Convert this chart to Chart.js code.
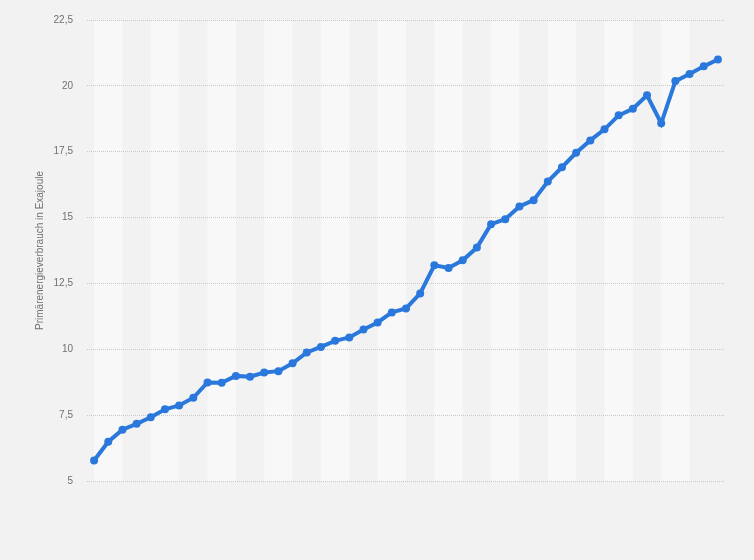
<!DOCTYPE html>
<html lang="de">
<head>
<meta charset="utf-8">
<title>Primärenergieverbrauch</title>
<script src="https://cdn.jsdelivr.net/npm/chart.js@4/dist/chart.umd.min.js"></script>
<style>
  html, body { margin: 0; padding: 0; background: #f2f2f2; }
  #wrap { width: 754px; height: 560px; position: relative; }
</style>
</head>
<body>
<div id="wrap"><canvas id="energyChart"></canvas></div>
<script>
const years = [
    '1980', '1981', '1982', '1983', '1984', '1985', '1986', '1987', '1988', '1989',
    '1990', '1991', '1992', '1993', '1994', '1995', '1996', '1997', '1998', '1999',
    '2000', '2001', '2002', '2003', '2004', '2005', '2006', '2007', '2008', '2009',
    '2010', '2011', '2012', '2013', '2014', '2015', '2016', '2017', '2018', '2019',
    '2020', '2021', '2022', '2023', '2024'
];

const consumption = [
    5.78, 6.49, 6.95, 7.17, 7.42, 7.72, 7.87, 8.16, 8.74, 8.73,
    8.99, 8.96, 9.12, 9.17, 9.47, 9.88, 10.09, 10.32, 10.45, 10.75,
    11.02, 11.40, 11.55, 12.12, 13.19, 13.09, 13.38, 13.86, 14.75, 14.94,
    15.42, 15.66, 16.37, 16.91, 17.46, 17.93, 18.35, 18.88, 19.13, 19.64,
    18.58, 20.18, 20.45, 20.74, 21.00
];

const yTicks = [5, 7.5, 10, 12.5, 15, 17.5, 20, 22.5];

document.addEventListener('DOMContentLoaded', function () {
    const canvas = document.getElementById('energyChart');
    const ctx = canvas.getContext('2d');

    // page background + alternating column bands (every two years)
    const bandsPlugin = {
        id: 'bands',
        beforeDraw(chart) {
            const c = chart.ctx;
            const area = chart.chartArea;
            const x = chart.scales.x;
            c.save();
            c.fillStyle = '#f2f2f2';
            c.fillRect(0, 0, chart.width, chart.height);
            c.fillStyle = '#f8f8f8';
            for (let i = 0; i + 2 < years.length; i += 4) {
                const x0 = x.getPixelForValue(i);
                const x1 = x.getPixelForValue(i + 2);
                c.fillRect(x0, area.top, x1 - x0, area.bottom - area.top);
            }
            c.restore();
        }
    };

    new Chart(ctx, {
        type: 'line',
        data: {
            labels: years,
            datasets: [{
                label: 'Primärenergieverbrauch',
                data: consumption,
                borderColor: '#2a78dc',
                backgroundColor: '#2a78dc',
                borderWidth: 4,
                pointRadius: 4,
                pointHoverRadius: 5,
                pointBackgroundColor: '#2a78dc',
                pointBorderWidth: 0,
                tension: 0,
                fill: false
            }]
        },
        options: {
            responsive: true,
            maintainAspectRatio: false,
            animation: false,
            layout: {
                padding: { top: 19, right: 29, bottom: 79, left: 0 }
            },
            plugins: {
                legend: { display: false },
                tooltip: { enabled: true }
            },
            scales: {
                x: {
                    type: 'category',
                    offset: true,
                    display: false
                },
                y: {
                    min: 5,
                    max: 22.5,
                    afterBuildTicks(scale) {
                        scale.ticks = yTicks.map(v => ({ value: v }));
                    },
                    afterFit(scale) {
                        scale.width = 87;
                    },
                    border: { display: false, dash: [1, 1] },
                    grid: {
                        color: '#c8c8c8',
                        lineWidth: 1,
                        drawTicks: false
                    },
                    ticks: {
                        padding: 14,
                        color: '#707070',
                        font: { size: 10, family: "'Liberation Sans', Arial, sans-serif" },
                        callback: function (v) {
                            return Number(v).toLocaleString('de-DE');
                        }
                    },
                    title: {
                        display: true,
                        text: 'Primärenergieverbrauch in Exajoule',
                        color: '#707070',
                        padding: { top: 34, bottom: 0 },
                        font: { size: 10, family: "'Liberation Sans', Arial, sans-serif" }
                    }
                }
            }
        },
        plugins: [bandsPlugin]
    });
});
</script>
</body>
</html>
